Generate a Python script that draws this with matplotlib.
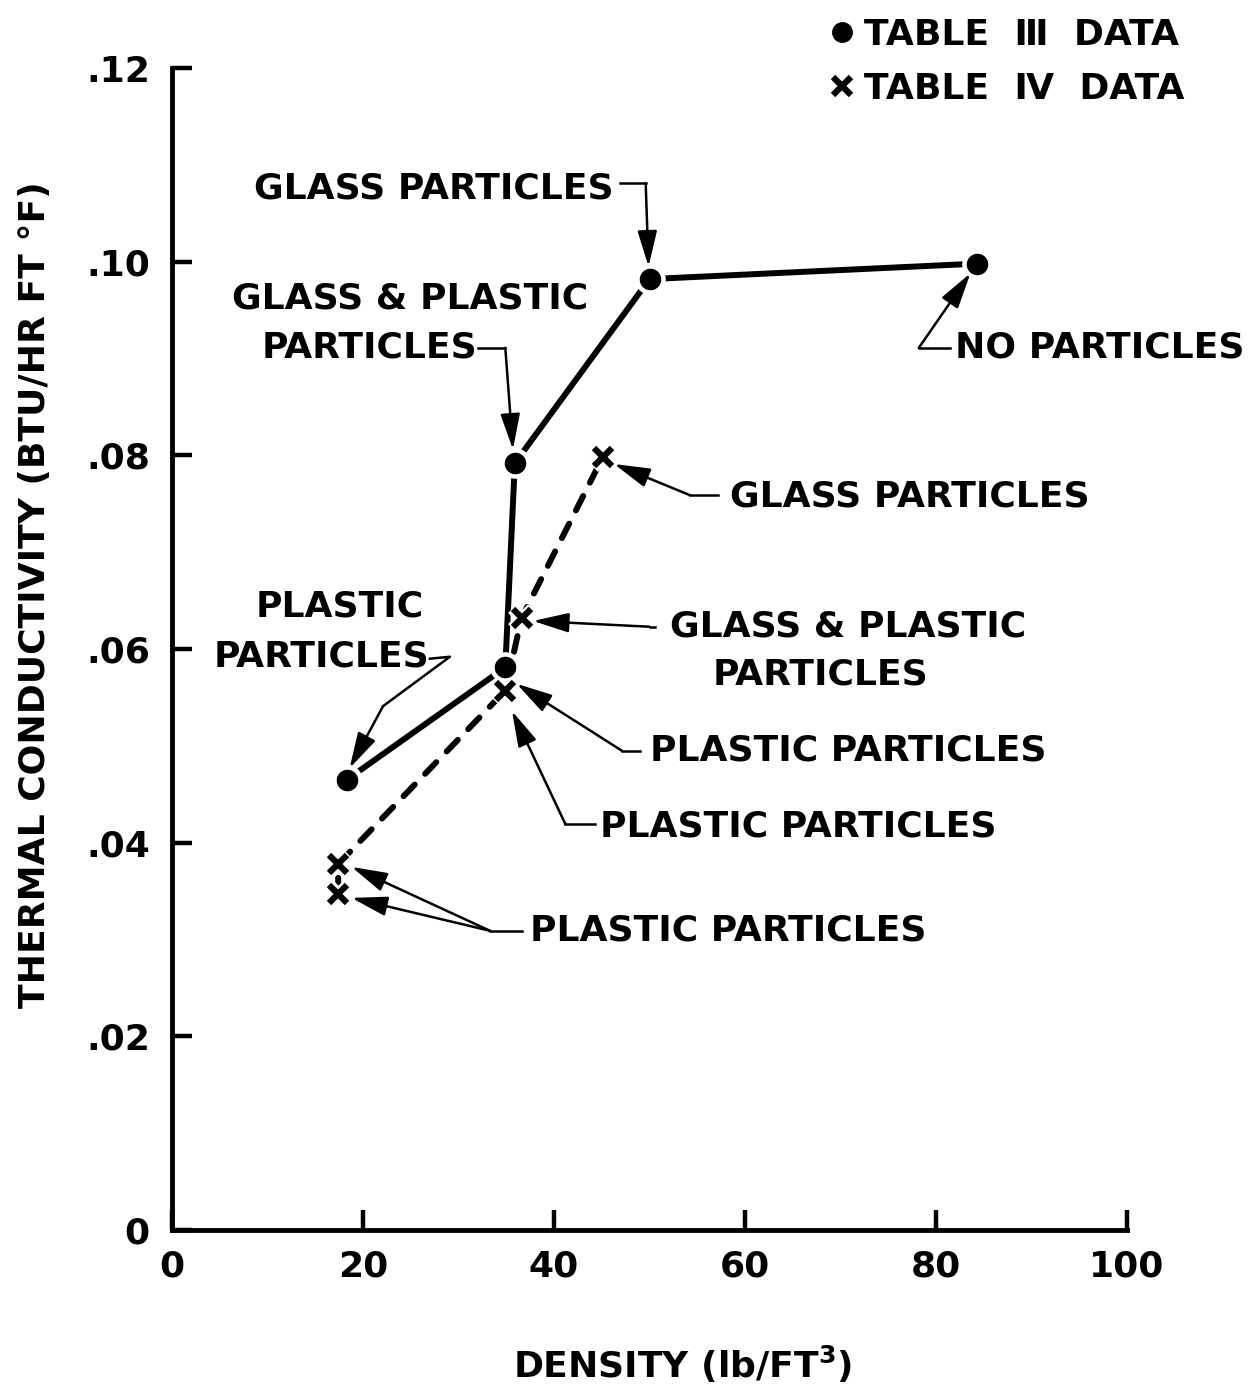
import matplotlib.pyplot as plt
from matplotlib.lines import Line2D

plt.rcParams['font.family'] = 'DejaVu Sans'
plt.rcParams['font.weight'] = 'bold'
plt.rcParams['font.size'] = 26
plt.rcParams['mathtext.default'] = 'bf'

# Table III measurements (solid line, dots)
t3_density = [18.3, 34.9, 35.9, 50.0, 84.3]
t3_k = [0.0465, 0.0581, 0.0792, 0.0982, 0.0998]

# Table IV measurements (dashed line, crosses)
t4_density = [17.4, 17.4, 34.9, 36.6, 45.1]
t4_k = [0.0347, 0.0378, 0.0557, 0.0632, 0.0798]

x_ticks = [0, 20, 40, 60, 80, 100]
x_tick_labels = ['0', '20', '40', '60', '80', '100']
y_ticks = [0, 0.02, 0.04, 0.06, 0.08, 0.10, 0.12]
y_tick_labels = ['0', '.02', '.04', '.06', '.08', '.10', '.12']
legend_labels = ['TABLE  \u2162  DATA', 'TABLE  \u2163  DATA']

fig = plt.figure(figsize=(12.5, 13.85), dpi=100)
ax = fig.add_axes([0.1376, 0.1119, 0.764, 0.839])

# connecting lines first, then white halos so the lines stop short of markers
ax.plot(t3_density, t3_k, color='black', lw=4.3, solid_capstyle='round', zorder=2)
ax.plot(t4_density, t4_k, color='black', lw=4.3, dashes=(2.7, 2.5),
        dash_capstyle='round', zorder=2)
ax.plot(t3_density, t3_k, 'o', color='white', ms=21, zorder=3)
ax.plot(t4_density, t4_k, 'x', color='white', ms=15, mew=9, zorder=3)
ax.plot(t3_density, t3_k, 'o', color='black', ms=14.5, zorder=4)
ax.plot(t4_density, t4_k, 'x', color='black', ms=13, mew=4.5, zorder=4)

arrow_kw = dict(arrowstyle='-|>,head_length=1.1,head_width=0.3', color='black',
                lw=1.8, mutation_scale=20, shrinkA=0, shrinkB=0)


def leader(path, tips):
    xs, ys = zip(*path)
    ax.plot(xs, ys, color='black', lw=1.8, zorder=5)
    for tip in tips:
        ax.annotate('', xy=tip, xytext=path[-1], arrowprops=arrow_kw, zorder=5)


# labels pointing at Table III points
ax.text(46.2, 0.1076, 'GLASS PARTICLES', ha='right', va='center')
leader([(46.9, 0.1081), (49.6, 0.1081)], [(49.9, 0.0995)])

ax.text(24.9, 0.0962, 'GLASS & PLASTIC', ha='center', va='center')
ax.text(20.7, 0.0911, 'PARTICLES', ha='center', va='center')
leader([(32.0, 0.0911), (34.9, 0.0911)], [(35.7, 0.0806)])

ax.text(82.0, 0.0911, 'NO PARTICLES', ha='left', va='center')
leader([(81.5, 0.0911), (78.2, 0.0911)], [(83.6, 0.0988)])

ax.text(17.6, 0.0644, 'PLASTIC', ha='center', va='center')
ax.text(15.7, 0.0592, 'PARTICLES', ha='center', va='center')
leader([(27.0, 0.0590), (29.1, 0.0592), (22.1, 0.0541)], [(18.6, 0.0477)])

ax.text(50.1, 0.0495, 'PLASTIC PARTICLES', ha='left', va='center')
leader([(49.0, 0.0495), (47.1, 0.0495)], [(36.1, 0.0564)])

# labels pointing at Table IV points
ax.text(58.4, 0.0758, 'GLASS PARTICLES', ha='left', va='center')
leader([(57.2, 0.0759), (54.2, 0.0759)], [(46.3, 0.0791)])

ax.text(70.8, 0.0623, 'GLASS & PLASTIC', ha='center', va='center')
ax.text(67.9, 0.0574, 'PARTICLES', ha='center', va='center')
leader([(50.6, 0.0623), (50.0, 0.0623)], [(37.8, 0.0629)])

ax.text(44.8, 0.0417, 'PLASTIC PARTICLES', ha='left', va='center')
leader([(44.3, 0.0419), (41.2, 0.0419)], [(35.6, 0.0536)])

ax.text(37.5, 0.0309, 'PLASTIC PARTICLES', ha='left', va='center')
leader([(36.6, 0.0309), (33.3, 0.0309)], [(18.8, 0.0375), (18.8, 0.0343)])

# axes styling
ax.set_xlim(0, 100)
ax.set_ylim(0, 0.12)
ax.set_xticks(x_ticks)
ax.set_xticklabels(x_tick_labels)
ax.set_yticks(y_ticks)
ax.set_yticklabels(y_tick_labels)
ax.tick_params(axis='both', direction='in', length=14.5, width=3.2)
ax.tick_params(axis='x', pad=14)
ax.tick_params(axis='y', pad=16)
for side in ['top', 'right']:
    ax.spines[side].set_visible(False)
for side in ['left', 'bottom']:
    ax.spines[side].set_linewidth(3.5)
    ax.spines[side].set_capstyle('projecting')

ax.text(0.535, -0.116, r'DENSITY (lb/FT$^{3}$)', transform=ax.transAxes,
        ha='center', va='center')
ax.text(-0.1435, 0.5465, 'THERMAL CONDUCTIVITY (BTU/HR FT \u00b0F)', transform=ax.transAxes,
        ha='center', va='center', rotation=90)

handles = [Line2D([], [], marker='o', ls='none', color='black', ms=14),
           Line2D([], [], marker='x', ls='none', color='black', ms=13, mew=4.5)]
fig.legend(handles, legend_labels, loc='upper right', bbox_to_anchor=(0.962, 1.0),
           frameon=False, handlelength=0.6, handletextpad=0.3, labelspacing=0.55,
           borderaxespad=0.1)

fig.savefig('out.png', dpi=100, facecolor='white')
